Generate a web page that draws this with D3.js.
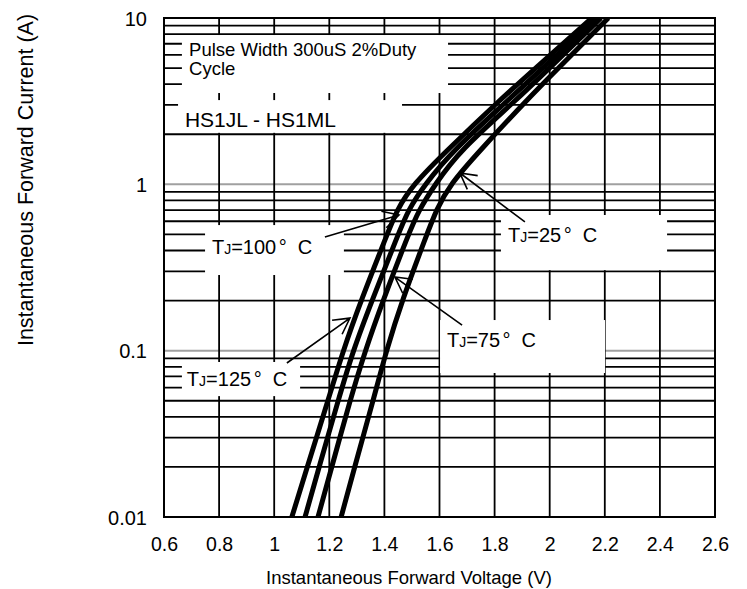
<!DOCTYPE html>
<html>
<head>
<meta charset="utf-8">
<script src="https://cdn.jsdelivr.net/npm/d3@7"></script>
<style>
  body { margin: 0; background: #fff; }
  svg text { font-family: Arial, "Liberation Sans", sans-serif; fill: #000; }
</style>
</head>
<body>
<svg id="chart" width="747" height="589"></svg>
<script>
// forward current (A) at which each curve was read
const currents = [0.01, 0.02, 0.05, 0.1, 0.2, 0.5, 0.7, 1, 1.6, 3.2, 5, 10];
// forward voltage (V) per junction temperature
const v125 = [1.064, 1.120, 1.195, 1.250, 1.315, 1.410, 1.445, 1.504, 1.627, 1.818, 1.949, 2.153];
const v100 = [1.112, 1.163, 1.232, 1.286, 1.355, 1.450, 1.486, 1.547, 1.649, 1.849, 1.974, 2.172];
const v75  = [1.159, 1.209, 1.275, 1.330, 1.395, 1.487, 1.525, 1.584, 1.674, 1.878, 1.999, 2.186];
const v25  = [1.243, 1.292, 1.359, 1.407, 1.464, 1.554, 1.588, 1.638, 1.747, 1.916, 2.032, 2.213];

const xTicks = [0.6, 0.8, 1, 1.2, 1.4, 1.6, 1.8, 2, 2.2, 2.4, 2.6];
const yTicks = [0.01, 0.1, 1, 10];
const tempLabels = ["100", "125", "25", "75"];

const svg = d3.select("#chart");
const pL = 164, pR = 715, pT = 18, pB = 517;

const x = d3.scaleLinear().domain([0.6, 2.6]).range([pL, pR]);
const y = d3.scaleLog().domain([0.01, 10]).range([pB, pT]);

svg.append("rect").attr("width", 747).attr("height", 589).attr("fill", "#fff");

// grid -------------------------------------------------------
const grid = svg.append("g");
let minor = [];
[0.01, 0.1, 1].forEach(function(dec) {
  for (let k = 2; k <= 9; k++) minor.push(dec * k);
});
grid.selectAll(".hmin").data(minor).enter().append("line")
  .attr("x1", pL).attr("x2", pR)
  .attr("y1", d => y(d)).attr("y2", d => y(d))
  .attr("stroke", "#000").attr("stroke-width", 1.8);
grid.selectAll(".hmaj").data([0.1, 1]).enter().append("line")
  .attr("x1", pL).attr("x2", pR)
  .attr("y1", d => y(d)).attr("y2", d => y(d))
  .attr("stroke", "#a0a0a0").attr("stroke-width", 2);
grid.selectAll(".vl").data(xTicks.slice(1, -1)).enter().append("line")
  .attr("y1", pT).attr("y2", pB)
  .attr("x1", d => x(d)).attr("x2", d => x(d))
  .attr("stroke", "#000").attr("stroke-width", 1.8);

// white label boxes drawn over the grid  [v0, v1, iTop, iBottom]
const boxes = [
  [0.665, 1.631, 7.9, 3.54],
  [0.651, 1.464, 3.21, 2.04],
  [0.749, 1.253, 0.569, 0.285],
  [0.665, 1.094, 0.0855, 0.0533],
  [1.823, 2.426, 0.654, 0.305],
  [1.602, 2.201, 0.1528, 0.0734]
];
svg.append("g").selectAll("rect").data(boxes).enter().append("rect")
  .attr("x", d => x(d[0])).attr("width", d => x(d[1]) - x(d[0]))
  .attr("y", d => y(d[2])).attr("height", d => y(d[3]) - y(d[2]))
  .attr("fill", "#fff");

// frame
svg.append("rect").attr("x", pL).attr("y", pT)
  .attr("width", pR - pL).attr("height", pB - pT)
  .attr("fill", "none").attr("stroke", "#000").attr("stroke-width", 2);

// curves -----------------------------------------------------
svg.append("clipPath").attr("id", "clip").append("rect")
  .attr("x", pL).attr("y", pT).attr("width", pR - pL).attr("height", pB - pT);

const line = d3.line()
  .x(d => x(d[0])).y(d => y(d[1]))
  .curve(d3.curveBasis);

const series = [v125, v100, v75, v25];
svg.append("g").attr("clip-path", "url(#clip)")
  .selectAll("path").data(series).enter().append("path")
  .attr("d", s => line(s.map((v, i) => [v, currents[i]])))
  .attr("fill", "none").attr("stroke", "#000").attr("stroke-width", 5);

// axes -------------------------------------------------------
const xAxis = d3.axisBottom(x).tickValues(xTicks).tickSize(0).tickPadding(20)
  .tickFormat(d => String(+d.toFixed(1)));
const gx = svg.append("g").attr("transform", "translate(0," + pB + ")").call(xAxis);
gx.select(".domain").remove();
gx.selectAll("text").attr("font-size", 19.5).style("font-family", "Arial, 'Liberation Sans', sans-serif");

const yAxis = d3.axisLeft(y).tickValues(yTicks).tickSize(0).tickPadding(17)
  .tickFormat(d => String(d));
const gy = svg.append("g").attr("transform", "translate(" + pL + ",0)").call(yAxis);
gy.select(".domain").remove();
gy.selectAll("text").attr("font-size", 20).attr("dy", "0.36em")
  .style("font-family", "Arial, 'Liberation Sans', sans-serif");

svg.append("text").attr("x", 409).attr("y", 584)
  .attr("text-anchor", "middle").attr("font-size", 18.5)
  .text("Instantaneous Forward Voltage (V)");
svg.append("text")
  .attr("transform", "translate(33,180) rotate(-90)")
  .attr("text-anchor", "middle").attr("font-size", 21.5)
  .text("Instantaneous Forward Current (A)");

// notes ------------------------------------------------------
svg.append("text").attr("x", x(0.691)).attr("y", y(5.91)).attr("font-size", 18.5)
  .text("Pulse Width 300uS 2%Duty");
svg.append("text").attr("x", x(0.691)).attr("y", y(5.91) + 19).attr("font-size", 18.5)
  .text("Cycle");
svg.append("text").attr("x", x(0.676)).attr("y", y(2.21)).attr("font-size", 21)
  .text("HS1JL - HS1ML");

// temperature labels [v, i] of the baseline start
const labelPos = [[0.774, 0.381], [0.683, 0.0613], [1.849, 0.45], [1.627, 0.105]];
labelPos.forEach(function(p, i) {
  const t = svg.append("text").attr("x", x(p[0])).attr("y", y(p[1])).attr("font-size", 20);
  t.append("tspan").text("T");
  t.append("tspan").attr("font-size", 14).text("J");
  t.append("tspan").text("=" + tempLabels[i]);
  t.append("tspan").attr("dx", 2.5).text("\u00b0");
  t.append("tspan").attr("dx", 11).text("C");
});

// arrows [tipV, tipI, tailV, tailI]
const arrows = [
  [1.453, 0.654, 1.184, 0.482],
  [1.275, 0.157, 1.046, 0.0843],
  [1.438, 0.277, 1.682, 0.1426],
  [1.674, 1.17, 1.910, 0.594]
];
const ag = svg.append("g").attr("stroke", "#000").attr("stroke-width", 1.6).attr("fill", "none");
arrows.forEach(function(a) {
  const tx = x(a[0]), ty = y(a[1]), sx = x(a[2]), sy = y(a[3]);
  const ang = Math.atan2(sy - ty, sx - tx);
  const len = 18, spread = 0.5;
  const b1 = [tx + len * Math.cos(ang + spread), ty + len * Math.sin(ang + spread)];
  const b2 = [tx + len * Math.cos(ang - spread), ty + len * Math.sin(ang - spread)];
  ag.append("path").attr("d",
    "M" + sx + "," + sy + "L" + tx + "," + ty +
    "M" + b1[0] + "," + b1[1] + "L" + tx + "," + ty + "L" + b2[0] + "," + b2[1]);
});
</script>
</body>
</html>
